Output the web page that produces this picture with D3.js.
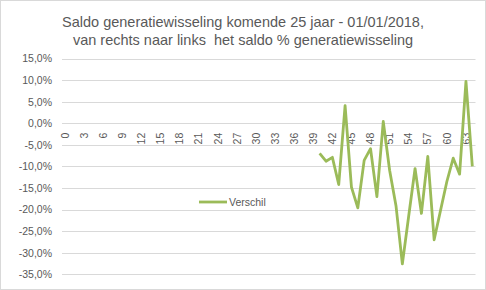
<!DOCTYPE html>
<html>
<head>
<meta charset="utf-8">
<script src="https://cdn.jsdelivr.net/npm/d3@7"></script>
<style>
  html, body { margin: 0; padding: 0; background: #fff; }
  svg { display: block; }
  text { font-family: "Liberation Sans", Arial, sans-serif; fill: #595959; }
</style>
</head>
<body>
<svg id="chart" width="486" height="290"></svg>
<script>
// Categories 0..64 (years ahead), saldo values in percent (null = no value)
const categories = d3.range(0, 65);
const verschil = [
  null, null, null, null, null, null, null, null, null, null,
  null, null, null, null, null, null, null, null, null, null,
  null, null, null, null, null, null, null, null, null, null,
  null, null, null, null, null, null, null, null, null, null,
  -7.0, -8.8, -7.9, -14.2, 4.1, -14.8, -19.6, -8.6, -5.9, -17.0,
  0.4, -10.9, -19.1, -32.6, -21.5, -10.5, -20.9, -7.7, -27.0, -20.2,
  -13.5, -8.1, -11.8, 9.7, -10.0
];
const yTicks = [15, 10, 5, 0, -5, -10, -15, -20, -25, -30, -35];
const titleLines = [
  "Saldo generatiewisseling komende 25 jaar - 01/01/2018,",
  "van rechts naar links  het saldo % generatiewisseling"
];
const seriesName = "Verschil";

const svg = d3.select("#chart");
const W = 486, H = 290;

// outer chart border
svg.append("rect")
  .attr("x", 0.5).attr("y", 0.5)
  .attr("width", W - 1).attr("height", H - 1)
  .attr("fill", "#fff").attr("stroke", "#d9d9d9");

const plot = { left: 62, right: 475.5, top: 58.5, bottom: 274.3 };

const x = d3.scaleBand()
  .domain(categories)
  .range([plot.left, plot.right]);

const y = d3.scaleLinear()
  .domain([-35, 15])
  .range([plot.bottom, plot.top]);

// title (keeps the double space in the second line)
svg.append("g").selectAll("text")
  .data(titleLines)
  .join("text")
  .attr("x", 243)
  .attr("y", (d, i) => 27 + i * 18)
  .attr("text-anchor", "middle")
  .style("white-space", "pre")
  .attr("xml:space", "preserve")
  .style("font-size", "14.5px")
  .text(d => d);

// horizontal gridlines
svg.append("g").selectAll("line")
  .data(yTicks)
  .join("line")
  .attr("x1", plot.left).attr("x2", plot.right)
  .attr("y1", d => Math.round(y(d)) + 0.5)
  .attr("y2", d => Math.round(y(d)) + 0.5)
  .attr("stroke", "#d9d9d9")
  .attr("stroke-width", 1);

// y axis labels
const fmt = d => d3.format(".1f")(d).replace(".", ",").replace("−", "-") + "%";
const yAxis = d3.axisLeft(y).tickValues(yTicks).tickSize(0).tickPadding(0).tickFormat(fmt);
const gy = svg.append("g")
  .attr("transform", `translate(${plot.left - 10},0)`)
  .call(yAxis);
gy.select(".domain").remove();
gy.selectAll("text")
  .style("font-family", "\"Liberation Sans\", Arial, sans-serif")
  .style("font-size", "10.5px")
  .attr("fill", "#595959");

// x axis category labels (every third), rotated, hanging below the 0% line
const xAxis = d3.axisBottom(x)
  .tickValues(categories.filter(c => c % 3 === 0))
  .tickSize(0).tickPadding(0);
const gx = svg.append("g")
  .attr("transform", `translate(0,${y(0)})`)
  .call(xAxis);
gx.select(".domain").remove();
gx.selectAll(".tick text")
  .attr("transform", "rotate(-90)")
  .attr("x", -9.5)
  .attr("y", 0)
  .attr("dy", "0.35em")
  .attr("text-anchor", "end")
  .style("font-family", "\"Liberation Sans\", Arial, sans-serif")
  .style("font-size", "10.5px")
  .attr("fill", "#595959");

// series line
const line = d3.line()
  .defined(d => d.v !== null)
  .x(d => x(d.c) + x.bandwidth() / 2)
  .y(d => y(d.v));

svg.append("path")
  .datum(categories.map((c, i) => ({ c, v: verschil[i] })))
  .attr("d", line)
  .attr("fill", "none")
  .attr("stroke", "#9bbb59")
  .attr("stroke-width", 2.8)
  .attr("stroke-linejoin", "round");

// legend
const lg = svg.append("g").attr("transform", "translate(199,202)");
lg.append("line")
  .attr("x1", 0).attr("x2", 28)
  .attr("y1", 0).attr("y2", 0)
  .attr("stroke", "#9bbb59")
  .attr("stroke-width", 2.8);
lg.append("text")
  .attr("x", 30).attr("y", 4)
  .style("font-size", "10.5px")
  .text(seriesName);
</script>
</body>
</html>
